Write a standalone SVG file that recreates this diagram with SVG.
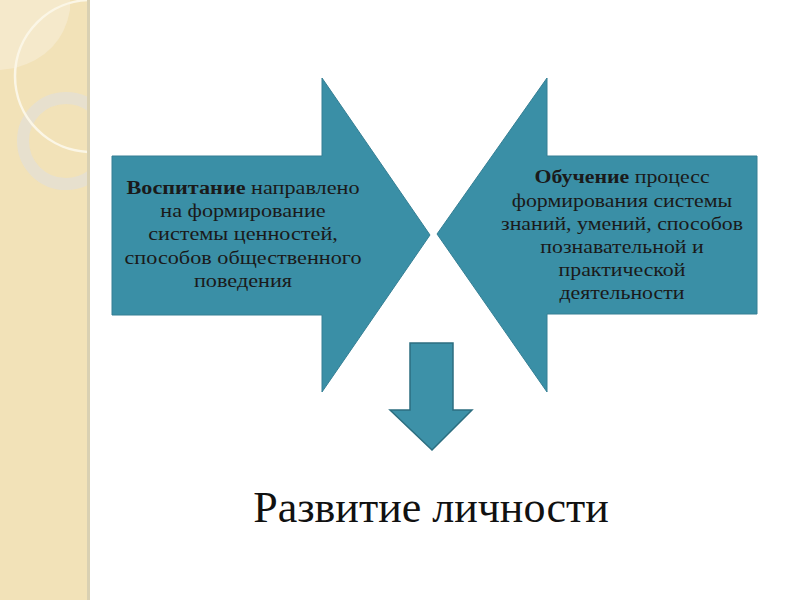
<svg xmlns="http://www.w3.org/2000/svg" width="800" height="600" viewBox="0 0 800 600">
<style>
.arrow{fill:#3a8fa6;stroke:#357f94;stroke-width:1}
.down{fill:#3d91a8;stroke:#2c6e80;stroke-width:1.5}
.t{font-family:"Liberation Serif","Times New Roman",serif;font-size:19px;fill:#1a1a1a;text-anchor:middle}
.b{font-weight:bold}
.big{font-family:"Liberation Serif","Times New Roman",serif;font-size:44px;fill:#111;text-anchor:middle}
</style>
<defs>
<clipPath id="band"><rect x="0" y="0" width="88" height="600"/></clipPath>
</defs>
<g id="background">
<rect x="0" y="0" width="800" height="600" fill="#ffffff"/>
<rect x="0" y="0" width="88" height="600" fill="#f2e2b8"/>
<g clip-path="url(#band)">
<path d="M0,0 H70 V10 Q62,55 15,68 L0,70 Z" fill="#f5e9cb"/>
<circle cx="66" cy="141" r="43" fill="none" stroke="#e6e0d0" stroke-width="12" opacity="0.9"/>
<circle cx="91" cy="76" r="76" fill="none" stroke="#fbf6e6" stroke-width="2.5"/>
</g>
<rect x="87" y="0" width="3" height="600" fill="#d9d0b2"/>
</g>
<g id="node-vospitanie">
<path class="arrow" d="M112,156 H322 V78 L430,235 L322,392 V315 H112 Z"/>
<g transform="translate(243,0) scale(1.17,1)">
<text class="t" x="0" y="194"><tspan class="b">Воспитание</tspan> направлено</text>
<text class="t" x="0" y="217">на формирование</text>
<text class="t" x="0" y="240">системы ценностей,</text>
<text class="t" x="0" y="264">способов общественного</text>
<text class="t" x="0" y="287">поведения</text>
</g>
</g>
<g id="node-obuchenie">
<path class="arrow" d="M757,156 H547 V78 L437,234 L547,392 V314 H757 Z"/>
<g transform="translate(622,0) scale(1.15,1)">
<text class="t" x="0" y="183"><tspan class="b">Обучение</tspan> процесс</text>
<text class="t" x="0" y="207">формирования системы</text>
<text class="t" x="0" y="230">знаний, умений, способов</text>
<text class="t" x="0" y="253">познавательной и</text>
<text class="t" x="0" y="276">практической</text>
<text class="t" x="0" y="299">деятельности</text>
</g>
</g>
<g id="connectors">
<path class="down" d="M410,343 H453 V410 H472 L432,450 L390,410 H410 Z"/>
</g>
<g id="node-razvitie">
<text class="big" x="431" y="522">Развитие личности</text>
</g>
</svg>
